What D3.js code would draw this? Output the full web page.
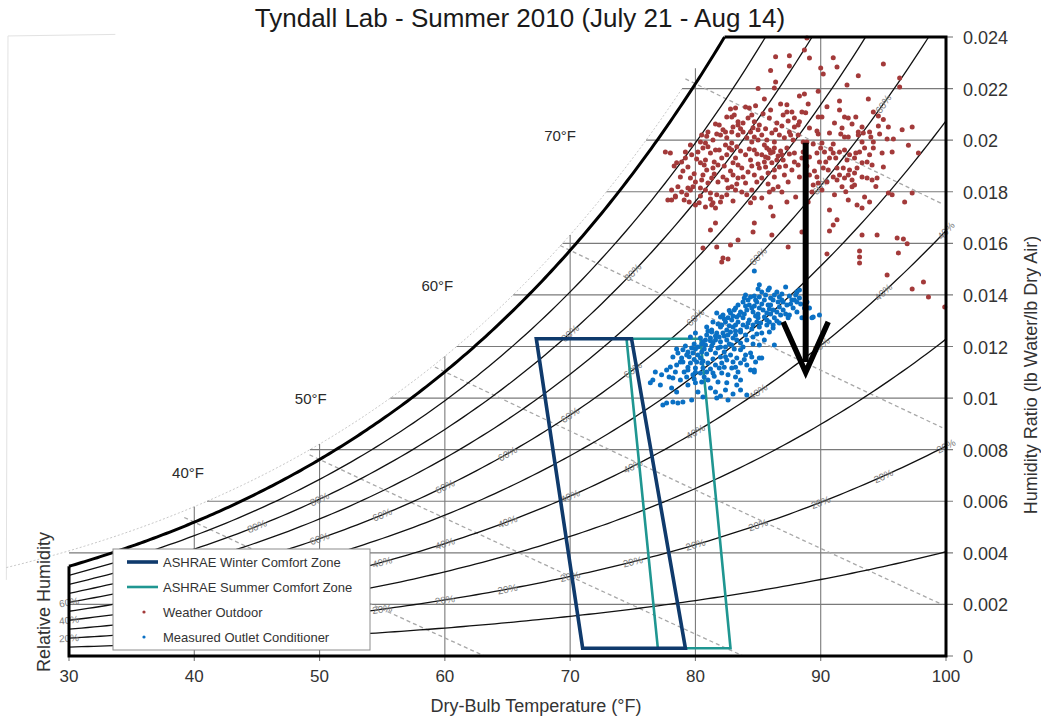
<!DOCTYPE html>
<html><head><meta charset="utf-8">
<script src="https://cdn.jsdelivr.net/npm/d3@7"></script>
<style>body{margin:0;background:#fff}text{font-family:"Liberation Sans",Arial,sans-serif}</style>
</head><body><svg id="c" width="1041" height="719"></svg>
<script>
// ---------------- data ----------------
const titleText = "Tyndall Lab - Summer 2010 (July 21 - Aug 14)";
const xTicks = [30,40,50,60,70,80,90,100];
const yTicks = [0,0.002,0.004,0.006,0.008,0.01,0.012,0.014,0.016,0.018,0.02,0.022,0.024];
const yTickLabels = ["0","0.002","0.004","0.006","0.008","0.01","0.012","0.014","0.016","0.018","0.02","0.022","0.024"];
const xGrid = [40,50,60,70,80,90];
const yGrid = [0.002,0.004,0.006,0.008,0.01,0.012,0.014,0.016,0.018,0.02,0.022];
const rhLevels = [0.1,0.2,0.3,0.4,0.5,0.6,0.7,0.8,0.9];
const wetBulbTemps = [40,50,60,70,80];
const wetBulbLabels = [["40°F",39.5,0.0071],["50°F",49.3,0.00997],["60°F",59.4,0.01438],["70°F",69.2,0.0202]];
// RH label positions: [dry-bulb °F, RH %]
const rhLabelPos = [
 [30,20],[50,20],[55,20],[60,20],[65,20],[70,20],[75,20],[80,20],[85,20],[90,20],[95,20],[100,20],
 [30,40],[55,40],[60,40],[65,40],[70,40],[75,40],[80,40],[85,40],[90,40],[95,40],[100,40],
 [30,60],[50,60],[55,60],[60,60],[65,60],[70,60],[75,60],[80,60],[85,60],[90,60],[95,60],
 [45,80],[50,80],[70,80],[75,80]
];
const winterZone = [[67.3,0.0123],[74.9,0.0123],[79.2,0.0003],[71.0,0.0003]];
const summerZone = [[74.5,0.0123],[80.4,0.0123],[82.8,0.0003],[77.0,0.0003]];
const arrowShaft = [[88.8,0.0199],[88.8,0.0114]];
const arrowHead = [[87.0,0.01295],[88.8,0.0110],[90.6,0.01295]];
const seriesNames = ["ASHRAE Winter Comfort Zone","ASHRAE Summer Comfort Zone","Weather Outdoor","Measured Outlet Conditioner"];

const weatherOutdoor = [
[88.9,.02396],[88.7,.02350],[89.1,.02319],[86.4,.02323],[87.5,.02327],[87.5,.02288],[90.0,.02280],[90.2,.02257],[91.3,.02284],[95.0,.02295],
[86.4,.02226],[86.3,.02202],[92.1,.02214],[96.3,.02241],[96.3,.02206],[88.7,.02179],[88.3,.02171],[87.3,.02137],[85.5,.02160],[93.8,.02160],
[91.5,.02152],[91.5,.02117],[83.2,.02125],[82.8,.02121],[84.0,.02129],[84.3,.02125],[84.8,.02133],[85.4,.02102],[83.1,.02098],[82.5,.02090],
[88.8,.02106],[89.8,.02090],[90.1,.02090],[91.9,.02090],[92.2,.02086],[94.2,.02109],[94.6,.02094],[97.3,.02051],[81.9,.02059],[81.6,.02063],
[82.4,.02032],[82.9,.02032],[83.4,.02059],[83.8,.02067],[84.2,.02086],[84.7,.02071],[85.1,.02059],[85.9,.02086],[86.5,.02067],[87.0,.02098],
[87.4,.02074],[87.9,.02086],[88.2,.02059],[87.7,.02109],[88.5,.02109],[87.3,.02109],[91.1,.02067],[92.5,.02063],[94.6,.02055],[95.4,.02051],
[91.7,.02047],[93.3,.02051],[89.1,.02047],[89.7,.02036],[89.8,.02024],[90.7,.02028],[91.6,.02024],[91.9,.02012],[92.2,.02012],[93.0,.02032],
[93.0,.02020],[93.4,.02028],[93.9,.02032],[94.0,.02012],[94.7,.02024],[95.3,.02005],[95.8,.02005],[88.3,.02071],[88.9,.01993],[90.1,.01989],
[91.0,.01985],[93.3,.01993],[94.2,.01993],
[80.5,.02020],[81.0,.02032],[80.4,.01993],[80.8,.01989],[81.4,.02001],[82.0,.02020],[82.5,.02009],[82.9,.01989],[83.4,.02020],[83.8,.02032],
[84.1,.02009],[84.4,.02032],[84.5,.01993],[84.7,.02012],[85.0,.02040],[85.3,.02020],[85.7,.02001],[86.1,.02028],[86.3,.01993],[86.7,.02020],
[87.1,.02009],[87.5,.02032],[87.8,.02001],[88.2,.02020],[88.6,.01993],[87.9,.02051],[83.4,.02071],
[77.6,.01954],[78.3,.01900],[78.8,.01857],[78.1,.01807],[77.8,.01768],[78.4,.01784],[79.6,.01807],[79.1,.01768],[80.0,.01749],[81.2,.01772],[80.4,.01784],
[78.0,.01950],[78.5,.01912],[78.9,.01915],[79.2,.01931],[79.4,.01896],[79.7,.01943],[80.2,.01954],[80.6,.01970],[81.0,.01974],[80.8,.01923],
[80.4,.01912],[80.9,.01884],[81.4,.01892],[81.8,.01904],[82.1,.01931],[82.5,.01943],[82.9,.01962],[83.3,.01974],[83.2,.01931],[83.4,.01904],
[84.0,.01943],[84.4,.01923],[84.7,.01962],[85.3,.01943],[85.7,.01970],[85.8,.01931],[86.2,.01954],[86.1,.01912],[86.5,.01923],[86.9,.01943],
[86.7,.01896],[87.3,.01970],[87.9,.01950],[88.5,.01931],[88.2,.01904],[87.7,.01884],[87.1,.01865],[86.3,.01857],[85.8,.01873],[85.3,.01853],
[84.7,.01865],[84.2,.01877],[83.8,.01857],[83.4,.01853],[83.0,.01865],[82.5,.01846],[82.2,.01857],[81.8,.01838],[81.3,.01853],[81.0,.01834],
[80.5,.01846],[80.0,.01838],[79.6,.01853],[79.8,.01819],[79.4,.01815],[78.6,.01819],[78.9,.01799],[79.3,.01788],[78.4,.01780],[78.1,.01768],
[80.4,.01815],[80.8,.01807],[81.2,.01795],[81.7,.01788],[82.1,.01780],[82.5,.01788],[82.6,.01815],[82.9,.01819],[83.2,.01807],[83.7,.01799],
[84.1,.01788],[84.5,.01807],[84.7,.01776],[85.3,.01776],[85.9,.01799],[86.6,.01819],[86.9,.01799],[87.4,.01838],[88.3,.01857],[87.3,.01760],
[80.8,.01741],[81.3,.01749],[81.6,.01737],[81.4,.01757],[86.2,.01706],[81.6,.01679],[81.2,.01652],[84.7,.01679],[84.6,.01644],[86.1,.01632],
[83.4,.01613],[82.8,.01594],[81.7,.01586],[80.6,.01582],[87.4,.01586],[82.2,.01543],[88.5,.01644],
[88.6,.01954],[89.1,.01935],[89.7,.01950],[89.9,.01915],[90.3,.01954],[90.7,.01931],[91.0,.01950],[91.5,.01954],[91.9,.01962],[92.3,.01943],
[92.1,.01923],[92.7,.01931],[93.1,.01954],[93.5,.01970],[93.9,.01943],[94.2,.01970],[94.9,.01950],[95.7,.01954],[97.8,.01950],[93.3,.01912],
[93.7,.01915],[94.1,.01904],[95.0,.01896],[92.9,.01892],[92.3,.01884],[91.8,.01892],[91.3,.01892],[90.6,.01884],[90.2,.01892],[89.7,.01857],
[89.1,.01865],[91.0,.01857],[91.5,.01865],[92.2,.01865],[92.7,.01873],[93.3,.01857],[93.7,.01853],[94.1,.01846],[94.5,.01853],[92.5,.01846],
[91.9,.01853],[91.3,.01846],[90.5,.01838],[89.8,.01834],[89.4,.01826],[91.7,.01819],[92.5,.01819],[92.7,.01826],[89.3,.01799],[90.1,.01807],
[91.1,.01788],[93.5,.01780],[95.4,.01795],[95.7,.01788],[97.3,.01795],[92.2,.01768],[92.9,.01749],[93.3,.01737],[93.9,.01760],[96.7,.01760],
[90.7,.01729],[91.3,.01691],[91.0,.01671],[90.7,.01648],[93.3,.01632],[94.5,.01632],[96.1,.01621],[96.6,.01617],[96.9,.01598],[93.1,.01570],
[96.2,.01563],[90.5,.01559],[93.1,.01547],
[95.3,.01477],[97.3,.01423],[98.2,.01450],[98.6,.01392],[99.9,.01353],[82.1,.01528],[82.6,.01539],[93.1,.01524],
[85.5,.01981],[85.9,.01962],[86.3,.01970],[86.6,.01939],[85.5,.01915],[85.1,.01892],[87.0,.01923],[85.0,.02001],[81.6,.01962],[82.4,.01981],
[79.6,.01981],[79.2,.01954],
[80.9,.02015],[81.7,.02024],[82.2,.02040],[83.0,.02051],[83.6,.02044],[84.6,.02048],[85.6,.02044],[86.4,.02040],[86.9,.02055],[87.6,.02020],
[81.2,.01950],[81.9,.01962],[82.7,.01970],[83.6,.01958],[84.3,.01966],[84.9,.01946],[85.6,.01935],[86.0,.01950],[86.8,.01958],[87.5,.01946],
[80.1,.01927],[80.7,.01904],[81.5,.01915],[82.3,.01900],[83.0,.01912],[83.7,.01892],[84.5,.01900],[85.0,.01908],[85.6,.01896],[86.3,.01884],
[87.2,.01900],[87.9,.01915],[88.9,.01900],[89.5,.01880],[90.4,.01915],[91.2,.01931],[90.0,.01970],[90.8,.01966],[89.4,.01985],[92.8,.01950],
[79.0,.01880],[79.9,.01870],[80.6,.01865],[81.5,.01869],[82.8,.01880],[83.3,.01830],[84.0,.01834],[84.9,.01838],[85.8,.01830],[86.2,.01810],
[79.5,.01760],[80.3,.01757],[82.0,.01760],[83.0,.01764],[84.4,.01757],[86.0,.01741],[88.0,.01780],[89.0,.01760],[92.0,.01800],[94.4,.01820],
[82.9,.02090],[84.5,.02098],[86.0,.02117],[86.8,.02140],[89.0,.02140],[90.5,.02130],[92.8,.02090],[95.0,.02080],[96.5,.02040],[97.0,.01980],
[86.0,.02270],[85.0,.02200],[89.8,.02190],[93.0,.02250],[91.0,.02320]
];

const outletConditioner = [
[84.7,.01493],[86.5,.01411],[87.2,.01431],[88.1,.01411],[88.3,.01388],[87.7,.01380],[86.7,.01392],[86.2,.01380],[85.8,.01361],[85.1,.01392],
[84.9,.01373],[84.3,.01361],[83.8,.01373],[83.4,.01361],[83.2,.01349],[83.6,.01334],[84.1,.01342],[84.6,.01334],[85.1,.01349],[85.7,.01330],
[86.2,.01342],[86.7,.01353],[87.3,.01361],[86.3,.01311],[85.7,.01303],[85.0,.01311],[84.3,.01303],[83.8,.01311],[83.3,.01314],[82.8,.01330],
[82.9,.01303],[82.4,.01295],[82.0,.01314],[81.7,.01330],[81.4,.01295],[80.9,.01276],[81.3,.01264],[82.0,.01276],[82.5,.01264],[83.0,.01276],
[83.6,.01264],[84.1,.01276],[84.6,.01283],[85.1,.01276],[85.7,.01283],[86.2,.01272],[86.7,.01291],[87.5,.01322],[88.1,.01334],[88.5,.01311],
[89.4,.01314],[89.9,.01322],[88.7,.01349],[88.9,.01373],[81.7,.01252],[82.2,.01252],[79.6,.01237],[80.0,.01252],[80.4,.01233],[80.9,.01245],
[81.3,.01256],[82.8,.01256],[83.2,.01245],[83.6,.01256],[82.5,.01225],[82.0,.01218],[81.4,.01214],[80.8,.01206],[80.2,.01198],[79.7,.01194],
[79.0,.01187],[78.6,.01175],[78.2,.01159],[79.3,.01167],[79.8,.01175],[80.5,.01179],[81.2,.01187],[81.8,.01194],[82.4,.01198],[82.9,.01206],
[83.6,.01214],[84.1,.01225],[84.6,.01237],[85.3,.01252],[85.9,.01256],[84.4,.01175],[84.5,.01159],[85.3,.01155],[84.7,.01109],[84.4,.01109],
[84.1,.01128],[83.6,.01136],[83.0,.01140],[82.5,.01148],[82.1,.01136],[81.6,.01128],[81.0,.01136],[80.5,.01136],[80.1,.01140],[79.6,.01136],
[79.0,.01140],[78.5,.01128],[78.0,.01121],[77.7,.01109],[77.3,.01090],[76.6,.01070],[76.4,.01059],[78.2,.01078],[78.8,.01070],[79.3,.01082],
[79.8,.01090],[80.4,.01097],[80.9,.01101],[81.4,.01097],[82.1,.01097],[82.6,.01090],[83.2,.01082],[83.6,.01070],[81.0,.01070],[80.5,.01062],
[80.0,.01059],[79.4,.01051],[82.5,.01059],[83.3,.01051],[81.2,.01039],[78.1,.01039],[78.5,.01024],[81.6,.01024],[82.4,.01031],[83.6,.01031],
[84.1,.01012],[82.6,.00993],[81.7,.01000],[79.7,.00993],[79.0,.00985],[78.2,.00985],[77.7,.00981],[77.4,.00973],[78.6,.00981],[80.6,.01004],
[85.1,.01155],[84.7,.01101],
[84.0,.01400],[84.2,.01380],[84.7,.01396],[85.3,.01411],[85.5,.01380],[84.5,.01349],[85.0,.01326],[83.2,.01283],[82.6,.01311],[82.1,.01283],
[81.2,.01233],[80.8,.01225],[81.6,.01225],[85.1,.01439],[85.9,.01427],[86.3,.01400],[87.5,.01396],[87.9,.01380],[87.0,.01373],[89.1,.01349],
[88.3,.01419],[89.3,.01311],
[77.2,.01051],[76.8,.01101],[85.5,.01225],[86.3,.01206],[85.1,.01206],[83.6,.01187],[84.0,.01167],[82.8,.01167],[82.0,.01159],[80.4,.01155],
[79.4,.01109],[80.0,.01117],
[84.4,.01392],[85.6,.01400],[86.0,.01361],[86.6,.01373],[87.0,.01342],[85.4,.01342],[84.8,.01318],[83.9,.01326],[83.0,.01318],[82.3,.01307],
[81.8,.01287],[81.0,.01260],[82.7,.01280],[83.4,.01295],[84.2,.01291],[84.9,.01295],[85.5,.01314],[86.0,.01326],[86.8,.01322],[87.8,.01349],
[88.4,.01365],[88.0,.01400],[86.9,.01404],[85.8,.01419],[85.0,.01423],[83.0,.01233],[82.3,.01241],[81.6,.01241],[80.6,.01218],[79.9,.01210],
[79.2,.01202],[78.5,.01190],[78.9,.01155],[79.5,.01160],[80.2,.01167],[80.9,.01171],[81.6,.01175],[82.3,.01179],[83.1,.01190],[83.8,.01198],
[84.6,.01210],[81.9,.01117],[81.2,.01113],[80.6,.01117],[82.9,.01117],[83.4,.01101],[79.9,.01074],[79.1,.01101],[78.4,.01101],[77.9,.01082],
[80.7,.01082],[81.8,.01062],[83.0,.01016],[80.2,.01024],[82.0,.01008],
[83.1,.01342],[83.5,.01322],[84.0,.01357],[84.7,.01357],[85.3,.01365],[85.9,.01345],[86.5,.01334],[87.2,.01326],[86.5,.01299],[85.9,.01295],
[85.2,.01291],[84.5,.01268],[83.8,.01283],[83.2,.01260],[82.6,.01245],[81.9,.01237],[81.2,.01222],[80.5,.01210],[80.0,.01190],[79.4,.01179],
[82.2,.01322],[82.7,.01340],[83.9,.01388],[84.8,.01380],[86.0,.01388],[86.9,.01380],[87.6,.01365],[88.1,.01373],[87.4,.01311],[86.2,.01283],
[84.9,.01248],[84.0,.01245],[83.3,.01225],[82.7,.01210],[82.0,.01198],[81.3,.01202],[80.7,.01190],[79.9,.01150],[80.6,.01144],[81.4,.01152],
[82.4,.01160],[83.3,.01155],[83.9,.01150],[84.8,.01140],[83.2,.01120],[82.3,.01120],[81.5,.01085],[80.0,.01100],[79.4,.01120],[78.8,.01140]
];

// ---------------- psychrometrics ----------------
const P_ATM = 101.325;           // kPa
const FAINT_OFFSET = 0.0006;     // outer guide curve above saturation
function pws(F){ const C=(F-32)*5/9; return 0.61094*Math.exp(17.625*C/(C+243.04)); }
function wAt(F, rh){ const p = rh*pws(F); return 0.622*p/(P_ATM-p); }
function wetBulbW(T, Twb){ const ws = wAt(Twb,1); return ((1093-0.556*Twb)*ws - 0.240*(T-Twb))/(1093+0.444*T-Twb); }
function tFor(W, off){ let lo=-20, hi=140; for(let i=0;i<60;i++){ const m=(lo+hi)/2; if(wAt(m,1)+off < W) lo=m; else hi=m; } return (lo+hi)/2; }

// ---------------- drawing ----------------
const svg = d3.select("#c");
const x = d3.scaleLinear().domain([30,100]).range([69,946]);
const y = d3.scaleLinear().domain([0,0.024]).range([656,37]);
const line = d3.line().x(d=>x(d[0])).y(d=>y(d[1]));
const W_TOP = 0.024, T_TOP = tFor(W_TOP, 0);

svg.append("rect").attr("width",1041).attr("height",719).attr("fill","#fff");
svg.append("defs").append("clipPath").attr("id","plot").append("rect")
  .attr("x",x(30)).attr("y",y(W_TOP)).attr("width",x(100)-x(30)).attr("height",y(0)-y(W_TOP));

// faint background frame (left)
svg.append("path").attr("d", line([[33.7,0.0241],[25.13,0.02404],[25.0,0.00295]]))
  .attr("fill","none").attr("stroke","#e2e2e2").attr("stroke-width",1);

// title
svg.append("text").attr("x",520).attr("y",27).attr("text-anchor","middle")
  .attr("font-size",26).attr("fill","#1a1a1a").text(titleText);

// faint guide curve
const faintPts = d3.range(25, tFor(0.0222,FAINT_OFFSET), 0.25).map(T=>[T, wAt(T,1)+FAINT_OFFSET]);
svg.append("path").attr("d", line(faintPts)).attr("fill","none")
  .attr("stroke","#c8c8c8").attr("stroke-width",1).attr("stroke-dasharray","2,2");

// grid
const grid = svg.append("g").attr("stroke","#7a7a7a").attr("stroke-width",1.1);
yGrid.forEach(W=>{
  grid.append("line").attr("x1", x(Math.max(30,tFor(W,FAINT_OFFSET)))).attr("x2", x(100)+7)
    .attr("y1", y(W)).attr("y2", y(W));
});
xGrid.forEach(T=>{
  grid.append("line").attr("x1", x(T)).attr("x2", x(T))
    .attr("y1", y(Math.min(W_TOP, wAt(T,1)+FAINT_OFFSET))).attr("y2", y(0)+5);
});
grid.append("line").attr("x1",x(30)).attr("x2",x(30)).attr("y1",y(0)).attr("y2",y(0)+5);
grid.append("line").attr("x1",x(100)).attr("x2",x(100)).attr("y1",y(0)).attr("y2",y(0)+5);
grid.append("line").attr("x1",x(100)).attr("x2",x(100)+7).attr("y1",y(0)).attr("y2",y(0));
grid.append("line").attr("x1",x(100)).attr("x2",x(100)+7).attr("y1",y(W_TOP)).attr("y2",y(W_TOP));

const plot = svg.append("g").attr("clip-path","url(#plot)");
// wet-bulb dashed lines
wetBulbTemps.forEach(Twb=>{
  const pts = d3.range(Twb-0.8, 100.01, 0.5).map(T=>[T, wetBulbW(T,Twb)]);
  plot.append("path").attr("d", line(pts)).attr("fill","none")
    .attr("stroke","#a8a8a8").attr("stroke-width",1.3).attr("stroke-dasharray","4,3");
});
// RH curves
rhLevels.forEach(rh=>{
  const pts = d3.range(30, 100.01, 0.5).map(T=>[T, wAt(T,rh)]);
  plot.append("path").attr("d", line(pts)).attr("fill","none")
    .attr("stroke","#111").attr("stroke-width",1.3);
});
// saturation curve
const satPts = d3.range(30, T_TOP, 0.25).map(T=>[T, wAt(T,1)]).concat([[T_TOP, W_TOP]]);
svg.append("path").attr("d", line(satPts)).attr("fill","none")
  .attr("stroke","#000").attr("stroke-width",3);

// RH labels
rhLabelPos.forEach(([T,rh])=>{
  const r = rh/100, px = x(T), py = y(wAt(T,r));
  const ang = Math.atan2(y(wAt(T+0.5,r))-y(wAt(T-0.5,r)), x(T+0.5)-x(T-0.5))*180/Math.PI;
  svg.append("text").attr("transform",`translate(${px},${py}) rotate(${ang})`)
    .attr("text-anchor","middle").attr("dominant-baseline","central")
    .attr("font-size",10).attr("fill","#7c7c7c").text(rh+"%");
});
// wet-bulb labels
wetBulbLabels.forEach(([t,T,W])=>{
  svg.append("text").attr("x",x(T)).attr("y",y(W)).attr("text-anchor","middle")
    .attr("dominant-baseline","central").attr("font-size",15).attr("fill","#2a2a2a").text(t);
});

// comfort zones
const zoneLine = d3.line().x(d=>x(d[0])).y(d=>y(d[1])).curve(d3.curveLinearClosed);
svg.append("path").attr("d", zoneLine(summerZone)).attr("fill","none")
  .attr("stroke","#1f9691").attr("stroke-width",2.6).attr("stroke-linejoin","miter");
svg.append("path").attr("d", zoneLine(winterZone)).attr("fill","none")
  .attr("stroke","#0f3a6c").attr("stroke-width",3.6).attr("stroke-linejoin","miter");

// scatter
svg.append("g").selectAll("circle").data(weatherOutdoor).join("circle")
  .attr("cx",d=>x(d[0])).attr("cy",d=>y(d[1])).attr("r",2.5).attr("fill","#a33a3a");
svg.append("g").selectAll("circle").data(outletConditioner).join("circle")
  .attr("cx",d=>x(d[0])).attr("cy",d=>y(d[1])).attr("r",2.5).attr("fill","#0a70c4");

// arrow
svg.append("path").attr("d", line(arrowShaft)).attr("stroke","#000").attr("stroke-width",6).attr("fill","none");
svg.append("path").attr("d", line(arrowHead)).attr("stroke","#000").attr("stroke-width",5.5)
  .attr("fill","none").attr("stroke-linejoin","miter").attr("stroke-miterlimit",10);

// frame
svg.append("path").attr("d", line([[30,wAt(30,1)],[30,0],[100,0],[100,W_TOP],[T_TOP,W_TOP]]))
  .attr("fill","none").attr("stroke","#000").attr("stroke-width",3).attr("stroke-linejoin","miter");

// tick labels
svg.append("g").selectAll("text").data(xTicks).join("text")
  .attr("x",d=>x(d)).attr("y",y(0)+20).attr("text-anchor","middle").attr("dominant-baseline","central")
  .attr("font-size",17).attr("fill","#333").text(d=>d);
svg.append("g").selectAll("text").data(yTicks).join("text")
  .attr("x",x(100)+17).attr("y",d=>y(d)+1).attr("dominant-baseline","central")
  .attr("font-size",18).attr("fill","#333").text((d,i)=>yTickLabels[i]);

// axis titles
svg.append("text").attr("x",536).attr("y",706).attr("text-anchor","middle").attr("dominant-baseline","central")
  .attr("font-size",18).attr("fill","#333").text("Dry-Bulb Temperature (°F)");
svg.append("text").attr("transform","translate(1031,375) rotate(-90)").attr("text-anchor","middle")
  .attr("dominant-baseline","central").attr("font-size",18).attr("fill","#333")
  .text("Humidity Ratio (lb Water/lb Dry Air)");
svg.append("text").attr("transform","translate(44,602) rotate(-90)").attr("text-anchor","middle")
  .attr("dominant-baseline","central").attr("font-size",18).attr("fill","#333").text("Relative Humidity");

// legend
const lg = svg.append("g").attr("transform","translate(113,549)");
lg.append("rect").attr("width",257).attr("height",101).attr("fill","#fff").attr("stroke","#8c8c8c").attr("stroke-width",1);
const rows = [13,38,63,88];
lg.append("line").attr("x1",14).attr("x2",45).attr("y1",rows[0]).attr("y2",rows[0]).attr("stroke","#0f3a6c").attr("stroke-width",3.6);
lg.append("line").attr("x1",14).attr("x2",45).attr("y1",rows[1]).attr("y2",rows[1]).attr("stroke","#1f9691").attr("stroke-width",2.6);
lg.append("circle").attr("cx",31).attr("cy",rows[2]).attr("r",1.6).attr("fill","#a33a3a");
lg.append("circle").attr("cx",31).attr("cy",rows[3]).attr("r",1.6).attr("fill","#0a70c4");
seriesNames.forEach((n,i)=>{
  lg.append("text").attr("x",50).attr("y",rows[i]).attr("dominant-baseline","central")
    .attr("font-size",13).attr("fill","#333").text(n);
});
</script></body></html>
